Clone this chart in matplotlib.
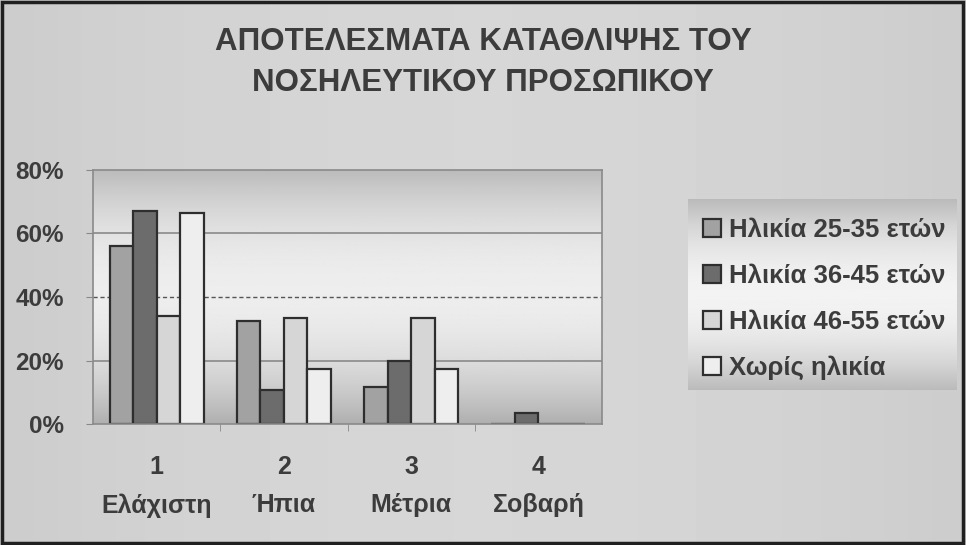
import numpy as np
import matplotlib
matplotlib.use("Agg")
import matplotlib.pyplot as plt
from matplotlib.patches import Rectangle

plt.rcParams['font.family'] = ['Liberation Sans', 'DejaVu Sans']

# data
categories = ["1\nΕλάχιστη", "2\nΉπια", "3\nΜέτρια", "4\nΣοβαρή"]
series_names = ["Ηλικία 25-35 ετών", "Ηλικία 36-45 ετών",
                "Ηλικία 46-55 ετών", "Χωρίς ηλικία"]
age_25_35 = [56, 32.5, 11.7, 0]
age_36_45 = [67, 10.6, 20, 3.4]
age_46_55 = [34, 33.3, 33.3, 0]
no_age = [66.5, 17.4, 17.4, 0]
yticks = [0, 20, 40, 60, 80]
title = "ΑΠΟΤΕΛΕΣΜΑΤΑ ΚΑΤΑΘΛΙΨΗΣ ΤΟΥ\nΝΟΣΗΛΕΥΤΙΚΟΥ ΠΡΟΣΩΠΙΚΟΥ"

series = [age_25_35, age_36_45, age_46_55, no_age]
colors = ["#a2a2a2", "#6c6c6c", "#d6d6d6", "#eeeeee"]
edge = "#2e2e2e"
text_col = "#3c3c3c"

fig = plt.figure(figsize=(9.66, 5.45), dpi=100)
fig.patch.set_facecolor("#d2d2d2")

# background of the whole figure, slightly lighter in the middle
bg = fig.add_axes([0, 0, 1, 1], zorder=-10)
gx = np.linspace(-1, 1, 200)
bg.imshow(np.tile(0.80 + 0.04 * (1 - gx ** 2), (10, 1)), cmap="gray",
          vmin=0, vmax=1, aspect="auto", extent=[0, 1, 0, 1])
bg.set_xlim(0, 1)
bg.set_ylim(0, 1)
bg.axis("off")
bg.add_patch(Rectangle((0.002, 0.003), 0.995, 0.994, fill=False,
                       edgecolor="#202020", linewidth=2.5,
                       transform=bg.transAxes))

ax = fig.add_axes([93 / 966, 1 - 424 / 545, 509 / 966, 254 / 545])
x = np.arange(len(categories))
w = 0.185

# plot area gradient: darker at top and bottom, light in the middle
gy = np.linspace(0, 80, 200)
shade = 0.93 - 0.22 * ((gy - 42) / 40) ** 2
ax.imshow(shade[:, None], cmap="gray", vmin=0, vmax=1, aspect="auto",
          origin="lower", extent=[-0.5, 3.5, 0, 80], zorder=0)

for g in (20, 60):
    ax.axhline(g, color="#8a8a8a", linewidth=1.2, zorder=1)
ax.axhline(40, color="#555555", linewidth=1, linestyle=(0, (3, 2)), zorder=1)

bars = []
for i, vals in enumerate(series):
    b = ax.bar(x + (i - 1.5) * w, vals, w, color=colors[i],
               edgecolor=edge, linewidth=1.6, zorder=2,
               label=series_names[i])
    bars.append(b)

ax.set_xlim(-0.5, 3.5)
ax.set_ylim(0, 80)
ax.set_yticks(yticks)
ax.set_yticklabels([f"{t}%" for t in yticks], fontsize=17.5,
                   fontweight="bold", color=text_col)
ax.set_xticks(x)
ax.set_xticklabels(categories, fontsize=18, fontweight="bold",
                   color=text_col, linespacing=1.75)
ax.set_xticks([0.5, 1.5, 2.5], minor=True)
ax.tick_params(axis="x", which="major", length=0, pad=22)
ax.tick_params(axis="x", which="minor", length=5, color="#888888")
ax.tick_params(axis="y", length=5, color="#888888", pad=16)
for s in ax.spines.values():
    s.set_color("#8a8a8a")
    s.set_linewidth(1.2)

fig.text(0.5, 0.885, title, ha="center", va="center", fontsize=22.5,
         fontweight="bold", color=text_col, linespacing=1.45)

# legend box with its own gradient
lg = fig.add_axes([688 / 966, 1 - 390 / 545, 269 / 966, 191 / 545], zorder=-5)
ly = np.linspace(-1, 1, 200)
lg.imshow((0.95 - 0.22 * ly ** 2)[:, None], cmap="gray", vmin=0, vmax=1,
          aspect="auto", extent=[0, 1, 0, 1])
lg.axis("off")

fig.legend(handles=bars, labels=series_names, loc="upper left",
           bbox_to_anchor=(693 / 966, 1 - 208 / 545), frameon=False,
           prop={"size": 18.5, "weight": "bold"}, labelcolor=text_col,
           handlelength=0.7, handleheight=0.7, handletextpad=0.3,
           labelspacing=0.85, borderaxespad=0)

fig.savefig("out.png", dpi=100, facecolor=fig.get_facecolor())
